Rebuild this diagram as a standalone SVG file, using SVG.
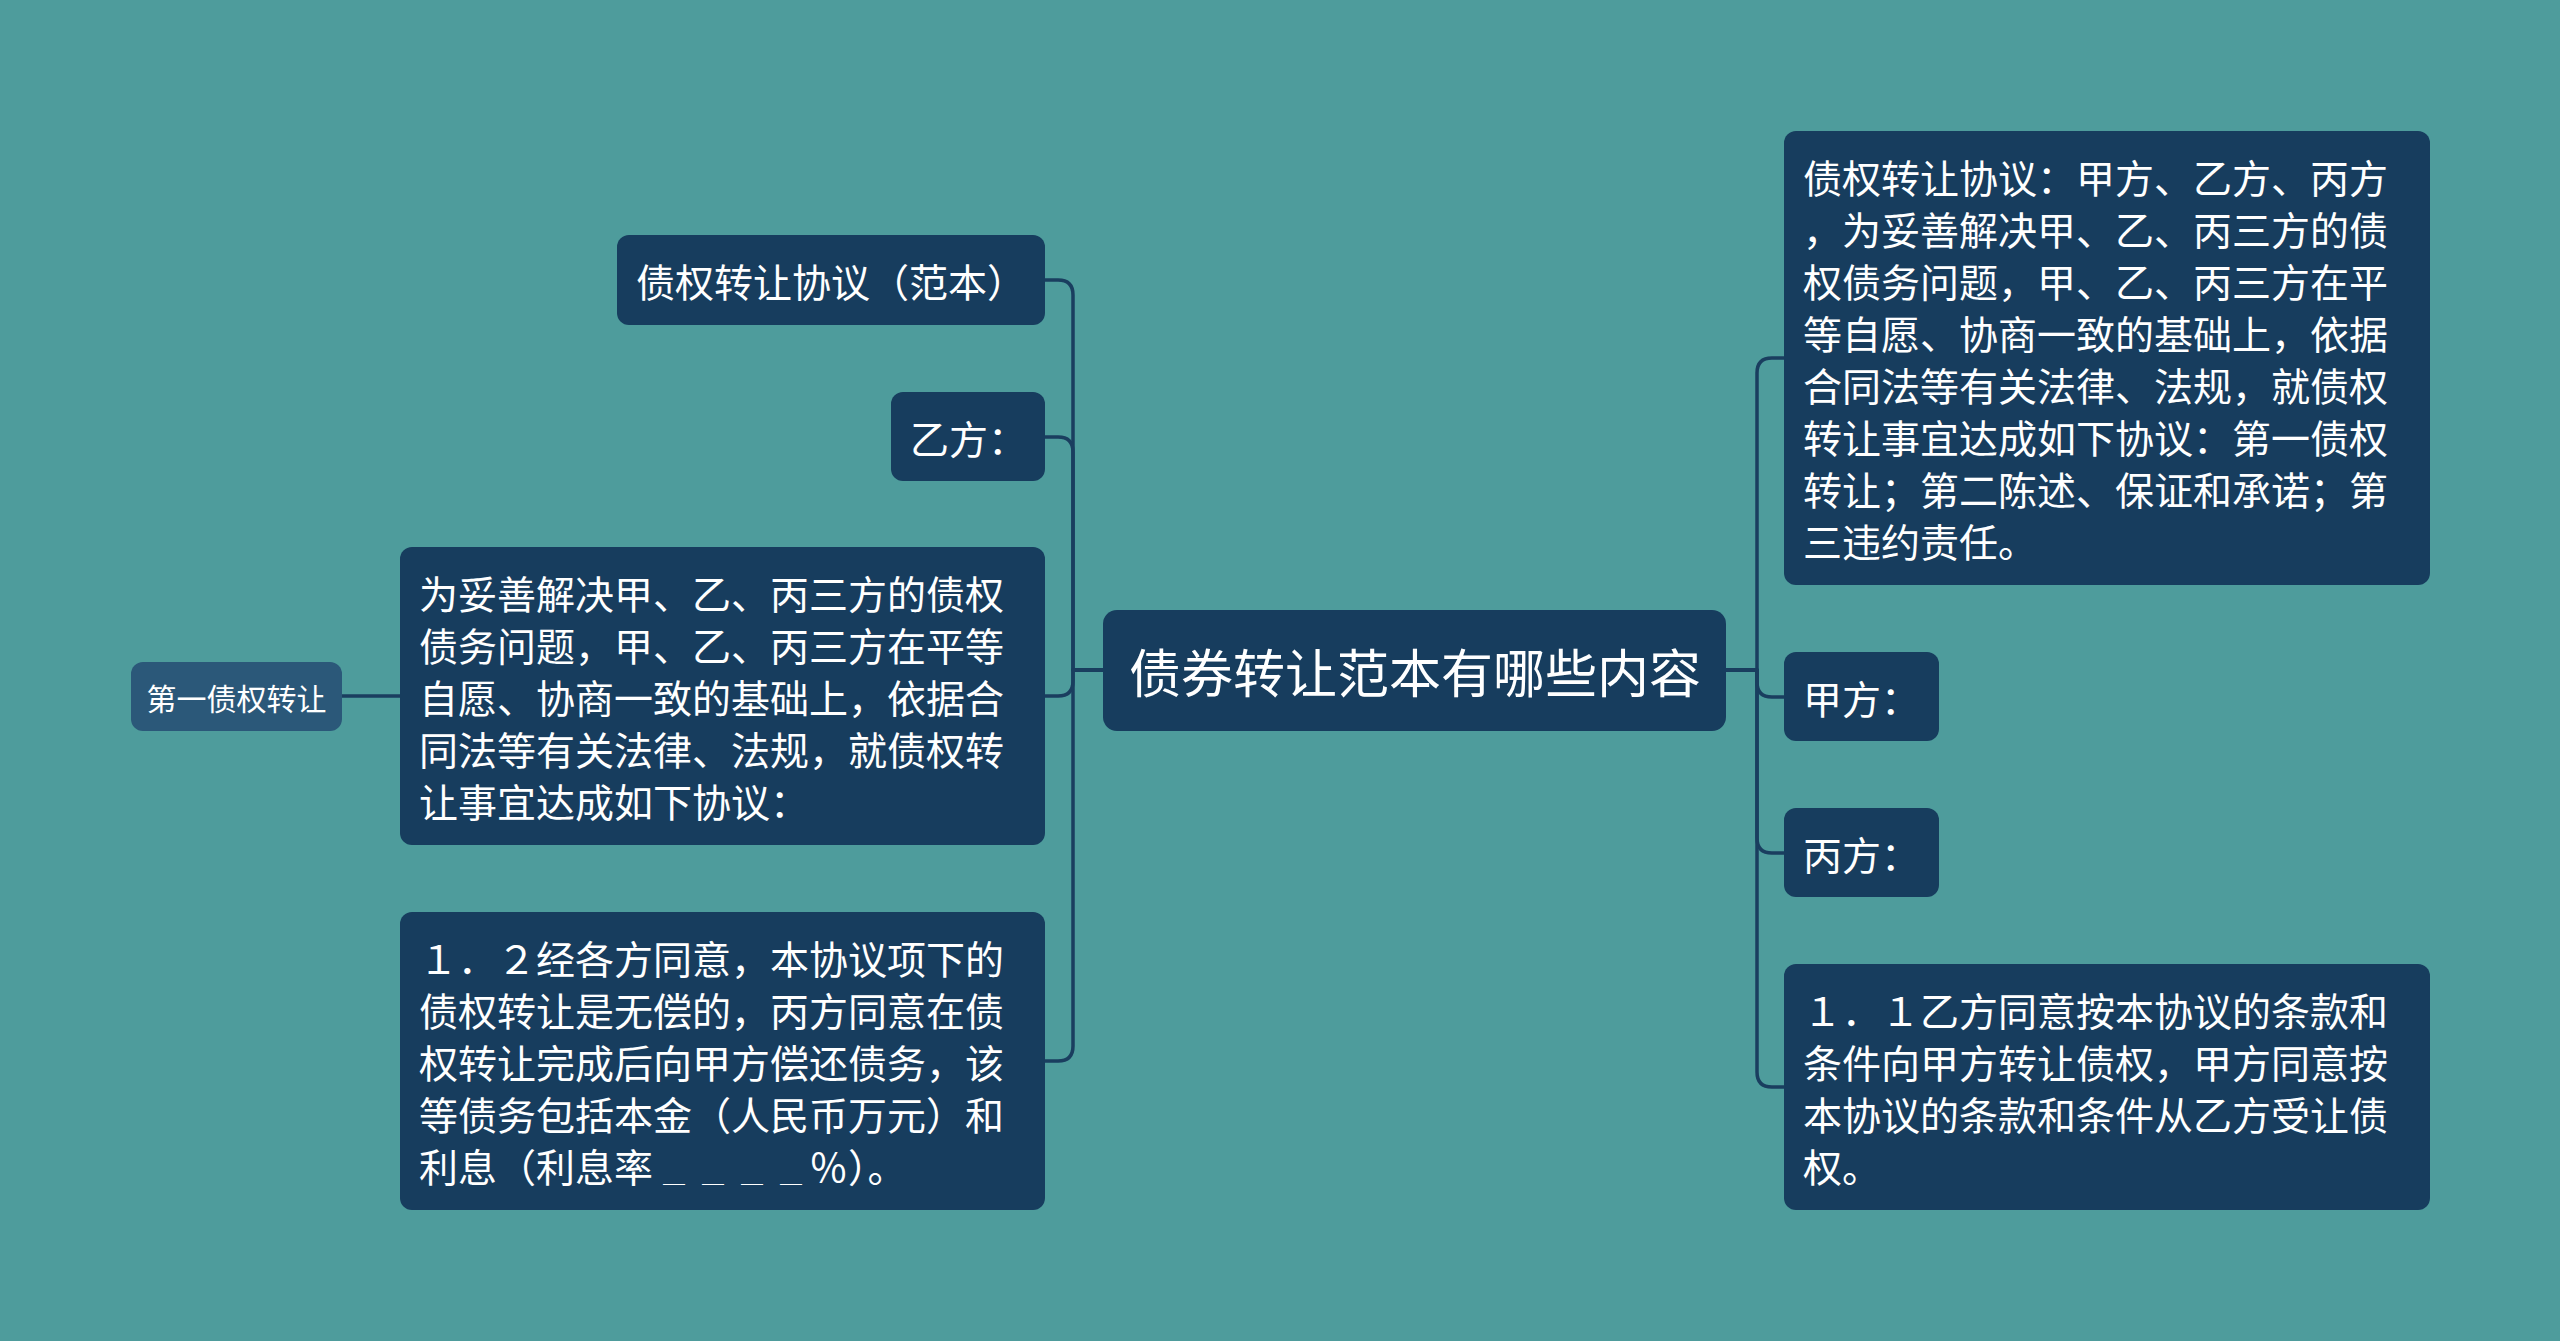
<svg xmlns="http://www.w3.org/2000/svg" width="2560" height="1341" viewBox="0 0 2560 1341">
<style>
.bg{fill:#4E9C9C}
.n{fill:#173D5E}
.n2{fill:#2B5879}
.t{font-family:"Noto Sans CJK SC","Noto Sans",sans-serif;fill:#FFFFFF;font-size:39px;dominant-baseline:central}
.c{font-size:52px;text-anchor:middle}
.s{font-size:30px;text-anchor:middle}
.u{font-size:22px}
.l{fill:none;stroke:#1A3E5F;stroke-width:3.5;stroke-linecap:round;stroke-linejoin:round}
</style>
<rect class="bg" x="0" y="0" width="2560" height="1341"/>
<g id="connectors">
<path class="l" d="M1104 670 H1073 V295 Q1073 280 1058 280 H1045"/>
<path class="l" d="M1104 670 H1073 V452 Q1073 437 1058 437 H1045"/>
<path class="l" d="M1104 670 H1073 V681 Q1073 696 1058 696 H1045"/>
<path class="l" d="M1104 670 H1073 V1046 Q1073 1061 1058 1061 H1045"/>
<path class="l" d="M400 696 H342"/>
<path class="l" d="M1726 670 H1757 V373 Q1757 358 1772 358 H1784"/>
<path class="l" d="M1726 670 H1757 V682 Q1757 697 1772 697 H1784"/>
<path class="l" d="M1726 670 H1757 V838 Q1757 853 1772 853 H1784"/>
<path class="l" d="M1726 670 H1757 V1072 Q1757 1087 1772 1087 H1784"/>
</g>
<g id="center">
<rect class="n" x="1103" y="610" width="623" height="121" rx="14"/>
<text class="t c" x="1415" y="670">债券转让范本有哪些内容</text>
</g>
<g id="node-fanben">
<rect class="n" x="617" y="235" width="428" height="90" rx="12"/>
<text class="t" x="636" y="280">债权转让协议（范本）</text>
</g>
<g id="node-yifang">
<rect class="n" x="891" y="392" width="154" height="89" rx="12"/>
<text class="t" x="910" y="437">乙方：</text>
</g>
<g id="node-intro">
<rect class="n" x="400" y="547" width="645" height="298" rx="12"/>
<text class="t" x="419" y="592">为妥善解决甲、乙、丙三方的债权</text>
<text class="t" x="419" y="644">债务问题，甲、乙、丙三方在平等</text>
<text class="t" x="419" y="696">自愿、协商一致的基础上，依据合</text>
<text class="t" x="419" y="748">同法等有关法律、法规，就债权转</text>
<text class="t" x="419" y="800">让事宜达成如下协议：</text>
</g>
<g id="node-first">
<rect class="n2" x="131" y="662" width="211" height="69" rx="12"/>
<text class="t s" x="236.5" y="697">第一债权转让</text>
</g>
<g id="node-12">
<rect class="n" x="400" y="912" width="645" height="298" rx="12"/>
<text class="t" x="419" y="957">１．２经各方同意，本协议项下的</text>
<text class="t" x="419" y="1009">债权转让是无偿的，丙方同意在债</text>
<text class="t" x="419" y="1061">权转让完成后向甲方偿还债务，该</text>
<text class="t" x="419" y="1113">等债务包括本金（人民币万元）和</text>
<text class="t" x="419" y="1165">利息（利息率<tspan class="u" x="663 702 741 780" dy="7">＿＿＿＿</tspan><tspan x="809" dy="-7">％）。</tspan></text>
</g>
<g id="node-agreement">
<rect class="n" x="1784" y="131" width="646" height="454" rx="12"/>
<text class="t" x="1803" y="176">债权转让协议：甲方、乙方、丙方</text>
<text class="t" x="1803" y="228">，为妥善解决甲、乙、丙三方的债</text>
<text class="t" x="1803" y="280">权债务问题，甲、乙、丙三方在平</text>
<text class="t" x="1803" y="332">等自愿、协商一致的基础上，依据</text>
<text class="t" x="1803" y="384">合同法等有关法律、法规，就债权</text>
<text class="t" x="1803" y="436">转让事宜达成如下协议：第一债权</text>
<text class="t" x="1803" y="488">转让；第二陈述、保证和承诺；第</text>
<text class="t" x="1803" y="540">三违约责任。</text>
</g>
<g id="node-jiafang">
<rect class="n" x="1784" y="652" width="155" height="89" rx="12"/>
<text class="t" x="1803" y="697">甲方：</text>
</g>
<g id="node-bingfang">
<rect class="n" x="1784" y="808" width="155" height="89" rx="12"/>
<text class="t" x="1803" y="853">丙方：</text>
</g>
<g id="node-11">
<rect class="n" x="1784" y="964" width="646" height="246" rx="12"/>
<text class="t" x="1803" y="1009">１．１乙方同意按本协议的条款和</text>
<text class="t" x="1803" y="1061">条件向甲方转让债权，甲方同意按</text>
<text class="t" x="1803" y="1113">本协议的条款和条件从乙方受让债</text>
<text class="t" x="1803" y="1165">权。</text>
</g>
</svg>
